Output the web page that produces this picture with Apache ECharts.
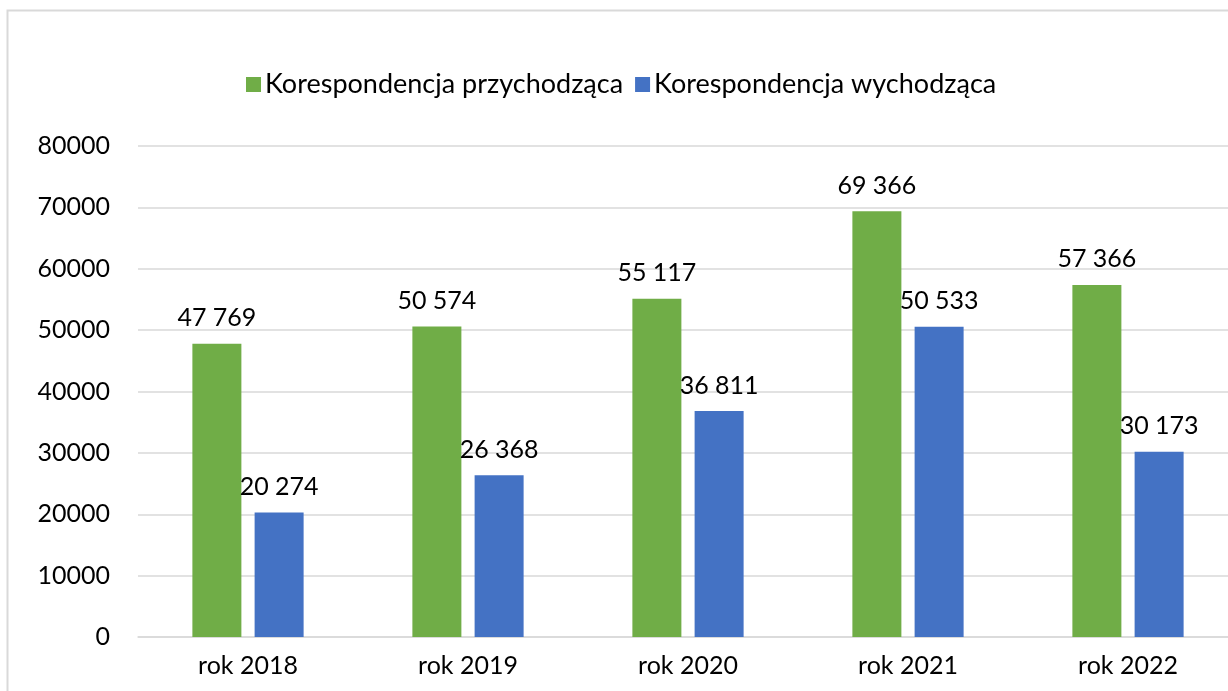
<!DOCTYPE html>
<html><head><meta charset="utf-8">
<script src="https://cdn.jsdelivr.net/npm/echarts@6/dist/echarts.min.js"></script>
<style>html,body{margin:0;padding:0;background:#fff;overflow:hidden}#c{width:1240px;height:691px}</style>
</head><body><div id="c"></div>
<script>
const categories = ['rok 2018','rok 2019','rok 2020','rok 2021','rok 2022'];
const incoming = [47769, 50574, 55117, 69366, 57366];
const outgoing = [20274, 26368, 36811, 50533, 30173];
const seriesNames = ['Korespondencja przychodząca','Korespondencja wychodząca'];
const FONT = 'Lato';
const fmt = v => String(v).replace(/\B(?=(\d{3})+(?!\d))/g, ' ');
const chart = echarts.init(document.getElementById('c'));
const lbl = {show:true, position:'top', distance:13, color:'#000', fontFamily:FONT, fontSize:25,
  formatter: p => fmt(p.value)};
chart.setOption({
  animation:false,
  textStyle:{fontFamily:FONT},
  graphic:[{type:'rect', shape:{x:7.5,y:10.5,width:1400,height:900}, style:{fill:null, stroke:'#d9d9d9', lineWidth:2}}],
  legend:{top:66, left:241, itemWidth:15, itemHeight:15, itemGap:12, icon:'rect',
    textStyle:{fontFamily:FONT, fontSize:27, color:'#000', padding:[0,0,0,-1]}, data:seriesNames},
  grid:{left:138, top:146, width:1100, bottom:54, containLabel:false},
  xAxis:{type:'category', data:categories, axisTick:{show:false},
    axisLine:{lineStyle:{color:'#d9d9d9', width:1.5}},
    axisLabel:{color:'#000', fontFamily:FONT, fontSize:25, margin:16}},
  yAxis:{type:'value', min:0, max:80000, interval:10000, axisLine:{show:false}, axisTick:{show:false},
    splitLine:{lineStyle:{color:'#d9d9d9', width:1.5}},
    axisLabel:{color:'#000', fontFamily:FONT, fontSize:25, margin:28, formatter: v => String(v)}},
  series:[
    {name:seriesNames[0], type:'bar', data:incoming, barWidth:49, barGap:'27%', itemStyle:{color:'#70AD47'}, label:lbl},
    {name:seriesNames[1], type:'bar', data:outgoing, barWidth:49, itemStyle:{color:'#4472C4'}, label:lbl}
  ]
});
</script></body></html>
